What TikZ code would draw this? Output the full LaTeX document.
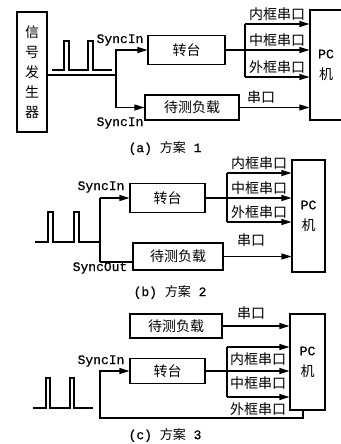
\documentclass[tikz,border=0pt]{standalone}
\usepackage{fontspec}
\setmainfont{Liberation Mono}[FakeBold=0.6]
\newfontfamily\cjk{Noto Sans CJK SC}
\usetikzlibrary{arrows.meta}

\tikzset{
  box/.style={draw, inner sep=0pt, font=\cjk\fontsize{14}{16}\selectfont},
  pcbox/.style={draw, inner sep=0pt, align=center, font=\fontsize{13}{21}\selectfont},
  arr/.style={-{Triangle[length=10pt,width=6pt]}},
  lbl/.style={inner sep=0pt, font=\cjk\fontsize{14}{16}\selectfont},
  sig/.style={inner sep=0pt, font=\fontsize{13}{15}\selectfont},
  captext/.style={inner sep=0pt, font=\fontsize{13}{15}\selectfont},
}

\begin{document}
\begin{tikzpicture}[x=1pt, y=-1pt, line width=1.1pt]
\useasboundingbox (0,0) rectangle (340,444);

% (a)
\node[box, minimum width=30pt, minimum height=120pt, align=center, font=\cjk\fontsize{14}{20}\selectfont] (a-gen) at (32,72) {信\\号\\发\\生\\器};
\node[box, minimum width=77pt, minimum height=29pt] (a-turn) at (186.5,50) {转台};
\node[box, minimum width=94pt, minimum height=25pt] (a-load) at (192,107.5) {待测负载};
\node[pcbox, minimum width=32pt, minimum height=110pt] (a-pc) at (326,65) {PC\\{\cjk\fontsize{14}{21}\selectfont 机}};
\coordinate (a-split) at (116,75);
\draw (a-gen.east |- a-split) -- (a-split);
\draw[arr] (a-split) |- (a-turn.west);
\draw[arr] (a-split) |- (a-load.west);
\draw (52,70) -- (64,70) -- (64,41) -- (69,41) -- (69,70) -- (88,70) -- (88,41) -- (93,41) -- (93,70) -- (112,70);
\node[sig] (a-sin1) at (120,40) {SyncIn};
\node[sig] (a-sin2) at (120,123) {SyncIn};
\coordinate (a-f1) at (245,24);
\coordinate (a-f2) at (245,50);
\coordinate (a-f3) at (245,77);
\draw (a-turn.east) -- (a-f2);
\draw (a-f1) -- (a-f3);
\draw[arr] (a-f1) -- (a-f1 -| a-pc.west) node[lbl, midway, above=3pt] {内框串口};
\draw[arr] (a-f2) -- (a-f2 -| a-pc.west) node[lbl, midway, above=3pt] {中框串口};
\draw[arr] (a-f3) -- (a-f3 -| a-pc.west) node[lbl, midway, above=3pt] {外框串口};
\draw[arr] (a-load.east) -- (a-load.east -| a-pc.west);
\node[lbl] (a-ser) at (261,97) {串口};
\node[captext] (a-cap) at (165,148) {(a) {\cjk 方案} 1};

% (b)
\node[box, minimum width=75pt, minimum height=29pt] (b-turn) at (167.5,198) {转台};
\node[box, minimum width=90pt, minimum height=27pt] (b-load) at (178,256.5) {待测负载};
\node[pcbox, minimum width=33pt, minimum height=112pt] (b-pc) at (308.5,216) {PC\\{\cjk\fontsize{14}{21}\selectfont 机}};
\coordinate (b-j0) at (100,242);
\coordinate (b-j1) at (100,198);
\coordinate (b-j2) at (100,262);
\draw (b-j1) -- (b-j2);
\draw[arr] (b-j1) -- (b-turn.west);
\draw (b-j2) -- (b-load.west |- b-j2);
\draw (35,242) -- (48,242) -- (48,212) -- (53,212) -- (53,242) -- (74,242) -- (74,212) -- (79,212) -- (79,242) -- (b-j0);
\node[sig] (b-sin) at (101,187) {SyncIn};
\node[sig] (b-sout) at (100,268) {SyncOut};
\coordinate (b-f1) at (227,173);
\coordinate (b-f2) at (227,198);
\coordinate (b-f3) at (227,222);
\draw (b-turn.east) -- (b-f2);
\draw (b-f1) -- (b-f3);
\draw[arr] (b-f1) -- (b-f1 -| b-pc.west) node[lbl, midway, above=3pt] {内框串口};
\draw[arr] (b-f2) -- (b-f2 -| b-pc.west) node[lbl, midway, above=3pt] {中框串口};
\draw[arr] (b-f3) -- (b-f3 -| b-pc.west) node[lbl, midway, above=3pt] {外框串口};
\draw[arr] (b-load.east) -- (b-load.east -| b-pc.west);
\node[lbl] (b-ser) at (251,240) {串口};
\node[captext] (b-cap) at (170,292) {(b) {\cjk 方案} 2};

% (c)
\node[box, minimum width=92pt, minimum height=24pt] (c-load) at (176,326) {待测负载};
\node[box, minimum width=75pt, minimum height=25pt] (c-turn) at (167.5,371) {转台};
\node[pcbox, minimum width=35pt, minimum height=96pt] (c-pc) at (307.5,362) {PC\\{\cjk\fontsize{14}{21}\selectfont 机}};
\draw[arr] (c-load.east) -- (c-load.east -| c-pc.west);
\node[lbl] (c-ser) at (251,313) {串口};
\coordinate (c-f1) at (227,347);
\coordinate (c-f2) at (227,371);
\coordinate (c-f3) at (227,397);
\draw (c-turn.east) -- (c-f2);
\draw (c-f1) -- (c-f3);
\draw[arr] (c-f1) -- (c-f1 -| c-pc.west) node[lbl, midway, below=5pt] {内框串口};
\draw[arr] (c-f2) -- (c-f2 -| c-pc.west) node[lbl, midway, below=5pt] {中框串口};
\draw[arr] (c-f3) -- (c-f3 -| c-pc.west) node[lbl, midway, below=5pt] {外框串口};
\coordinate (c-loop) at (100,418);
\draw[arr] ([xshift=-4.5pt]c-pc.south) |- (c-loop) |- (c-turn.west);
\draw (33,408) -- (46,408) -- (46,378) -- (50,378) -- (50,408) -- (70,408) -- (70,378) -- (74,378) -- (74,408) -- (93,408);
\node[sig] (c-sin) at (101,361) {SyncIn};
\node[captext] (c-cap) at (165,435) {(c) {\cjk 方案} 3};
\end{tikzpicture}
\end{document}
